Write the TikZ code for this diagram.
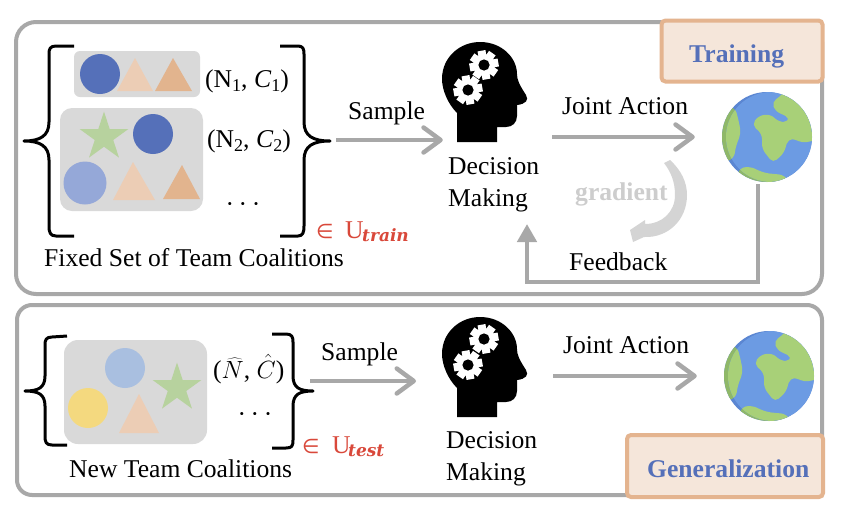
\documentclass[tikz,border=0pt]{standalone}
\usepackage{fontspec}
\setmainfont{Liberation Serif}
\newfontfamily\subfont{DejaVu Serif}
\newfontfamily\symfont{DejaVu Sans}
\usetikzlibrary{arrows.meta,shapes.geometric}
\definecolor{framegray}{HTML}{A8A8A8}
\definecolor{panelgray}{HTML}{D9D9D9}
\definecolor{gradgray}{HTML}{D4D4D4}
\definecolor{gradtext}{HTML}{CDCDCD}
\definecolor{blueA}{HTML}{5570B9}
\definecolor{blueB}{HTML}{95A8D8}
\definecolor{blueC}{HTML}{A9BFE0}
\definecolor{yellowA}{HTML}{F4D97F}
\definecolor{greenA}{HTML}{B7D29E}
\definecolor{triL}{HTML}{ECCDB5}
\definecolor{triD}{HTML}{E2B48E}
\definecolor{labfill}{HTML}{F5E6DA}
\definecolor{labline}{HTML}{E4B48F}
\definecolor{redA}{HTML}{D9483A}
\definecolor{ocean}{HTML}{6C9BE3}
\definecolor{oceanD}{HTML}{5B86D2}
\definecolor{land}{HTML}{A8D078}
\definecolor{landD}{HTML}{8FB868}
\newcommand{\mainfs}{\fontsize{25.6}{32}\selectfont}
\newcommand{\subtxt}[1]{{\fontsize{17}{17}\selectfont\subfont\bfseries\itshape #1}}
\newcommand{\lowidx}[1]{\raisebox{-4.5pt}{\fontsize{18}{18}\selectfont #1}}
\newcommand{\threedots}{\textperiodcentered\hspace{4.5pt}\textperiodcentered\hspace{4.5pt}\textperiodcentered}
\newcommand{\leftland}{(-32,-30) -- (-28,-15) -- (-26,-3) -- (-31,8) -- (-33,22) -- (-60,30) -- (-60,-30) -- cycle}
\newcommand{\botland}{(-29,32) -- (-18,29) -- (-3,36) -- (18,38) -- (30,60) -- (-30,60) -- cycle}
\newcommand{\mainland}{(17,-46) -- (15,-42) -- (5,-35) -- (8,-26) -- (23,-19) -- (20,-15) -- (12,-15) -- (3,-23) -- (-9,-21) -- (-15,-12) -- (-5,-3) -- (-5,12) -- (6,26) -- (17,16) -- (21,2) -- (28,2) -- (35,6) -- (50,3) -- (60,-50) -- cycle}
\tikzset{
  frame/.style={draw=framegray,line width=4pt,fill=white,rounded corners=#1},
  labelbox/.style={draw=labline,line width=4pt,fill=labfill,rounded corners=4pt,inner sep=0pt,minimum width=#1},
  panel/.style={fill=panelgray,rounded corners=#1},
  txt/.style={font=\mainfs,anchor=base west,inner sep=0pt,text=black},
  labtxt/.style={font=\mainfs\bfseries,anchor=base west,inner sep=0pt,text=blueA},
  redtxt/.style={font=\mainfs,anchor=base west,inner sep=0pt,text=redA},
  round dot/.style={circle,inner sep=0pt,minimum size=#1,fill},
  starshape/.style={star,star points=5,star point ratio=2.618,inner sep=0pt,minimum size=51pt,fill=greenA},
  brace/.style={draw=black,line width=3pt,line join=round},
  flow/.style={draw=framegray,line width=4.5pt,-{Straight Barb[length=17pt,width=25pt,round]}},
  fback/.style={draw=framegray,line width=4.5pt,-{Triangle[length=18pt,width=19pt]}},
  ghost/.style={inner sep=0pt,minimum width=#1},
  head/.pic={
    \fill[black] (0,0) -- (0,-29) .. controls (-9,-38) and (-15,-52) .. (-15,-63)
      .. controls (-15,-85) and (3,-100) .. (23,-100)
      .. controls (45,-100) and (60,-84) .. (60,-68)
      .. controls (60,-62) and (62,-58) .. (69,-47)
      .. controls (72,-42) and (69,-38) .. (60,-37)
      -- (60,-26) .. controls (60,-19) and (55,-15) .. (49,-15)
      -- (40,-15) -- (40,0) -- cycle;
  },
  gear/.pic={
    \fill[white] circle[radius=11];
    \foreach \a in {0,45,...,135}{
      \fill[white,rotate=\a+10] (-4,-14.5) rectangle (4,14.5);
    }
    \fill[black] circle[radius=5.6];
  },
  earth/.pic={
    \begin{scope}
      \clip circle[radius=45];
      \fill[oceanD] circle[radius=46];
      \fill[landD,rounded corners=6pt] \leftland;
      \fill[landD,rounded corners=6pt] \botland;
      \clip (4,0) circle[radius=45];
      \fill[ocean] (-50,-50) rectangle (50,50);
      \fill[land,rounded corners=6pt] \leftland;
      \fill[land,rounded corners=6pt] \botland;
      \fill[land,rounded corners=5pt] \mainland;
    \end{scope}
  },
}
\begin{document}
\begin{tikzpicture}[x=1pt,y=-1pt]
\useasboundingbox (0,0) rectangle (846,512);
\fill[white] (0,0) rectangle (846,512);

% outer frames
\draw[frame=20pt] (16,22) rectangle (822,294);
\draw[frame=15pt] (17,305) rectangle (822,495);

% label boxes
\node[labelbox=161pt,minimum height=61pt] (trainbox) at (742,51) {};
\node[labelbox=196pt,minimum height=62pt] (genbox) at (725,466) {};
\node[labtxt] (trainlab) at (689,62) {Training};
\node[labtxt] (genlab) at (647,477) {Generalization};

% training panel shapes
\fill[panel=6pt] (74,51) rectangle (200,97);
\fill[panel=12pt] (60,108) rectangle (203,211);
\node[round dot=40pt,fill=blueA] (c1) at (100,74) {};
\fill[triL] (117,91) -- (135,58) -- (153,91) -- cycle;
\fill[triD] (155,91) -- (173,58) -- (192,91) -- cycle;
\node[starshape] (s1) at (104,137) {};
\node[round dot=40pt,fill=blueA] (c2) at (153,134) {};
\node[round dot=43pt,fill=blueB] (c3) at (85,183) {};
\fill[triL] (113,200) -- (133,162) -- (155,200) -- cycle;
\fill[triD] (163,199) -- (182,165) -- (200,199) -- cycle;

% training braces
\draw[brace] (74,46) -- (56,46) .. controls (50,46) and (49,49) .. (49,54) -- (49,122)
  .. controls (49,136) and (40,141) .. (24,141) .. controls (40,141) and (49,146) .. (49,160)
  -- (49,226) .. controls (49,232) and (50,236) .. (56,236) -- (74,236);
\draw[brace] (280,46) -- (298,46) .. controls (303,46) and (304,49) .. (304,54) -- (304,122)
  .. controls (304,136) and (313,141) .. (330,141) .. controls (313,141) and (304,146) .. (304,160)
  -- (304,226) .. controls (304,232) and (303,236) .. (298,236) -- (280,236);

\node[txt] (n1) at (205,87) {(N\lowidx{1}, \textit{C}\lowidx{1})};
\node[txt] (n2) at (207,147) {(N\lowidx{2}, \textit{C}\lowidx{2})};
\node[txt,anchor=base] (dots1) at (243,212) {\threedots};
\node[redtxt,font=\fontsize{20}{20}\selectfont\symfont] (u1) at (316,238) {∈};
\node[redtxt] (u1b) at (345,238) {U};
\node[redtxt] (u1c) at (362,241) {\subtxt{train}};
\node[txt] (fixed) at (44,266) {Fixed Set of Team Coalitions};

% training flow
\coordinate (samp1s) at (336,140);
\pic at (457,142) {head};
\pic at (484,65) {gear};
\pic at (468,90) {gear};
\node[ghost=84pt,minimum height=100pt] (head1) at (485,92) {};
\node[txt] (samp1) at (348,119) {Sample};
\draw[flow] (samp1s) -- (samp1s -| head1.west);
\node[txt,align=left,anchor=north west] (dm1) at (448,157) {Decision\\Making};
\node[circle,inner sep=0pt,minimum size=90pt] (earth1) at (767,137) {};
\pic at (767,137) {earth};
\coordinate (ja1s) at (552,137);
\node[txt] (ja1) at (562,114) {Joint Action};
\draw[flow,shorten >=27pt] (ja1s) -- (earth1);
\coordinate (fbs) at (758,184);
\coordinate (fbm) at (758,282);
\coordinate (fbn) at (527,282);
\coordinate (fbe) at (527,224);
\draw[fback] (fbs) -- (fbm) -- (fbn) -- (fbe);
\node[txt] (fb) at (569,270) {Feedback};
\fill[gradgray] (664,163) -- (670,160) .. controls (681,170) and (687,182) .. (687,195)
  .. controls (687,220) and (668,238) .. (644,237) -- (633,242) -- (630,230) -- (645,220) -- (645,224)
  .. controls (662,224) and (675,212) .. (675,195) .. controls (675,182) and (671,172) .. (664,163) -- cycle;
\node[txt,font=\mainfs\bfseries,text=gradtext] (grad) at (575,200) {gradient};

% generalization panel shapes
\fill[panel=14pt] (64,340) rectangle (207,444);
\node[round dot=40pt,fill=blueC] (c4) at (125,368) {};
\node[round dot=40pt,fill=yellowA] (c5) at (88,408) {};
\fill[triL] (119,433) -- (139,394) -- (159,433) -- cycle;
\node[starshape] (s2) at (177,388) {};

\draw[brace] (67,336) -- (52,337) .. controls (46,337) and (45,340) .. (45,345) -- (45,376)
  .. controls (45,388) and (38,391) .. (25,391) .. controls (38,391) and (45,394) .. (45,406)
  -- (45,436) .. controls (45,442) and (46,445) .. (52,445) -- (67,445);
\draw[brace] (272,334) -- (286,334) .. controls (292,334) and (293,337) .. (293,342) -- (293,376)
  .. controls (293,388) and (300,391) .. (313,391) .. controls (300,391) and (293,394) .. (293,406)
  -- (293,440) .. controls (293,446) and (292,448) .. (286,448) -- (272,448);

\node[txt] (nh) at (213,378) {($\widehat{N}$, $\hat{C}$)};
\node[txt,anchor=base] (dots2) at (255,422) {\threedots};
\node[redtxt,font=\fontsize{20}{20}\selectfont\symfont] (u2) at (302,453) {∈};
\node[redtxt] (u2b) at (332,453) {U};
\node[redtxt] (u2c) at (348,456) {\subtxt{test}};
\node[txt] (newt) at (69,477) {New Team Coalitions};

% generalization flow
\coordinate (samp2s) at (310,381);
\coordinate (samp2e) at (416,381);
\node[txt] (samp2) at (321,360) {Sample};
\draw[flow] (samp2s) -- (samp2e);
\pic at (457,417) {head};
\pic at (484,339) {gear};
\pic at (468,365) {gear};
\node[txt,align=left,anchor=north west] (dm2) at (446,431) {Decision\\Making};
\node[circle,inner sep=0pt,minimum size=90pt] (earth2) at (769,376) {};
\pic at (769,376) {earth};
\coordinate (ja2s) at (553,376);
\node[txt] (ja2) at (563,353) {Joint Action};
\draw[flow,shorten >=27pt] (ja2s) -- (earth2);
\end{tikzpicture}
\end{document}
